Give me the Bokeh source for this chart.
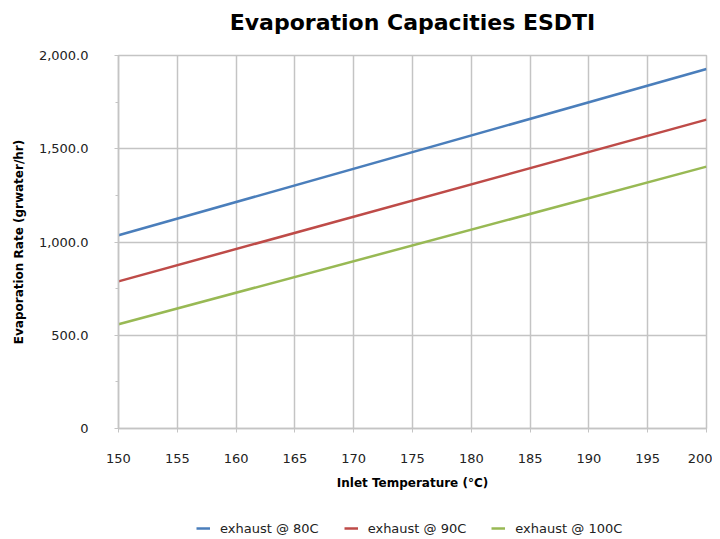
from bokeh.plotting import figure
from bokeh.models import Range1d, FixedTicker, Legend, LegendItem, Label
from bokeh.layouts import column
from bokeh.embed import file_html
from bokeh.resources import INLINE

# ---- data ----
inlet_temp = [150, 200]
exhaust_80 = [1036, 1928]
exhaust_90 = [789, 1656]
exhaust_100 = [559, 1404]
series_names = ["exhaust @ 80C", "exhaust @ 90C", "exhaust @ 100C"]
series_colors = ["#4A7EBB", "#BE4B48", "#98B954"]
x_ticks = [150, 155, 160, 165, 170, 175, 180, 185, 190, 195, 200]
y_ticks = [0, 500, 1000, 1500, 2000]
y_tick_labels = ["0", "500.0", "1,000.0", "1,500.0", "2,000.0"]
title_text = "Evaporation Capacities ESDTI"

FONT = "DejaVu Sans"
GRID = "#c4c4c4"


def strip(height):
    f = figure(width=712, height=height, output_backend="svg", toolbar_location=None,
               x_range=Range1d(0, 1), y_range=Range1d(0, 1),
               min_border_left=118, min_border_right=6, min_border_top=0,
               min_border_bottom=0, outline_line_color=None)
    f.axis.visible = False
    f.grid.visible = False
    f.background_fill_color = "white"
    f.border_fill_color = "white"
    return f


# ---- title strip ----
ts = strip(40)
ts.add_layout(Label(x=294, y=18, x_units="screen", y_units="screen", text=title_text,
                    text_align="center", text_baseline="middle",
                    text_font=FONT, text_font_size="22px", text_font_style="bold",
                    text_color="#000000"))

# ---- main chart ----
p = figure(frame_width=588, frame_height=373, output_backend="svg", toolbar_location=None,
           x_range=Range1d(150, 200), y_range=Range1d(0, 2000),
           min_border_left=118, min_border_right=6, min_border_top=15,
           min_border_bottom=85)

p.outline_line_color = GRID
p.outline_line_width = 1.5
p.background_fill_color = "white"
p.border_fill_color = "white"

p.xgrid.grid_line_color = GRID
p.ygrid.grid_line_color = GRID
p.xgrid.grid_line_width = 1.5
p.ygrid.grid_line_width = 1.5

p.xaxis.ticker = FixedTicker(ticks=x_ticks)
p.yaxis.ticker = FixedTicker(ticks=y_ticks,
                             minor_ticks=[v + 250 for v in y_ticks[:-1]])
p.yaxis.major_label_overrides = {t: l for t, l in zip(y_ticks, y_tick_labels)}

for ax in (p.xaxis, p.yaxis):
    ax.axis_line_color = GRID
    ax.axis_line_width = 1.5
    ax.major_tick_line_color = GRID
    ax.minor_tick_line_color = GRID
    ax.major_tick_in = 0
    ax.major_tick_out = 4
    ax.minor_tick_in = 0
    ax.minor_tick_out = 3
    ax.major_label_text_font = FONT
    ax.major_label_text_font_size = "13px"
    ax.major_label_text_color = "#222222"
    ax.axis_label_text_font = FONT
    ax.axis_label_text_font_size = "12px"
    ax.axis_label_text_font_style = "bold"
    ax.axis_label_text_color = "#000000"

p.xaxis.minor_tick_out = 0
p.xaxis.major_label_standoff = 21
p.xaxis.axis_label = "Inlet Temperature (°C)"
p.xaxis.axis_label_standoff = 10
p.yaxis.major_label_standoff = 26
p.yaxis.axis_label = "Evaporation Rate (grwater/hr)"
p.yaxis.axis_label_standoff = 10

series = [exhaust_80, exhaust_90, exhaust_100]
for ys, c in zip(series, series_colors):
    p.line(inlet_temp, ys, line_color=c, line_width=2.5)

# ---- legend strip below the chart ----
lg = strip(26)
items = []
for n, ys, c in zip(series_names, series, series_colors):
    r = lg.line(inlet_temp, ys, line_color=c, line_width=2.5)
    items.append(LegendItem(label=n, renderers=[r]))

legend = Legend(items=items, orientation="horizontal", location=(78, 1),
                border_line_color=None, background_fill_alpha=0,
                label_text_font=FONT, label_text_font_size="13px",
                label_text_color="#222222",
                glyph_width=14, label_standoff=10, spacing=25,
                margin=0, padding=0)
lg.add_layout(legend, "center")

layout = column(ts, p, lg, spacing=0)
open("out.html", "w").write(file_html(layout, INLINE))
